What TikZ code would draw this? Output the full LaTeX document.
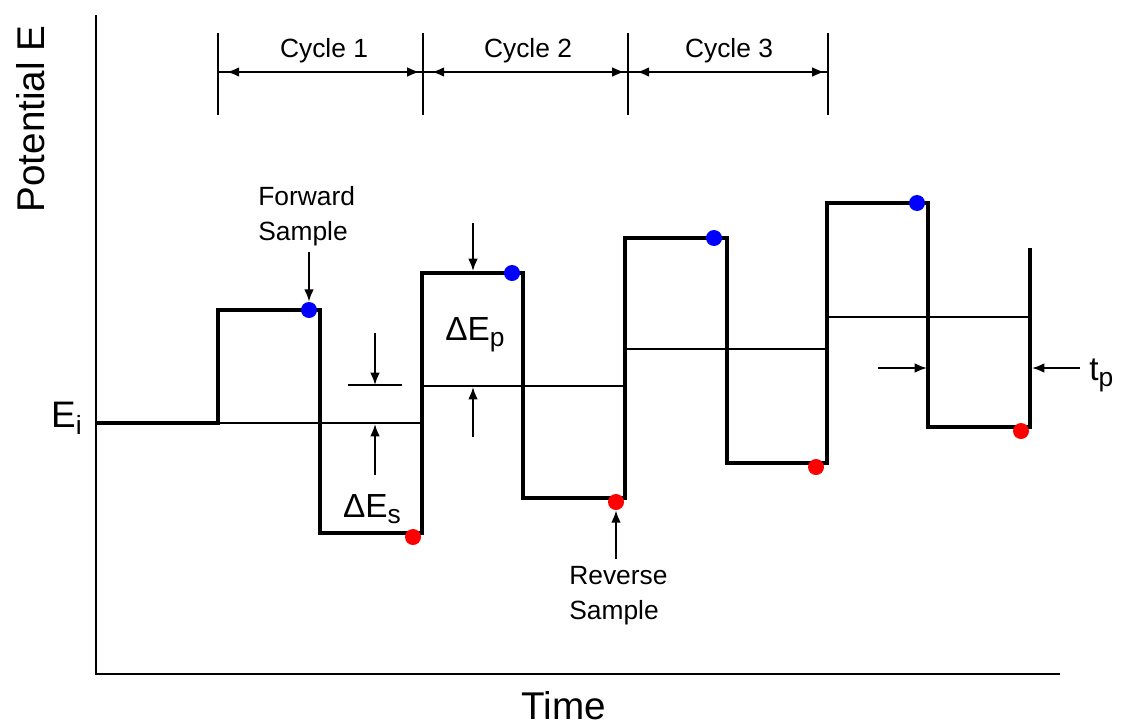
\documentclass[tikz,border=0pt]{standalone}
\usepackage{fontspec}
\setmainfont{Liberation Sans}
\usetikzlibrary{arrows.meta}

\newcommand{\lowidx}[1]{\raisebox{-0.2em}{\fontsize{15}{15}\selectfont #1}}

\begin{document}
\begin{tikzpicture}[
    x=0.02cm, y=-0.02cm, >={Latex[length=7pt,width=5.5pt]},
    axis/.style={line width=1.2pt},
    base/.style={line width=1.1pt},
    wave/.style={line width=2.8pt, line join=miter},
    marker/.style={->, line width=1.1pt},
    fwd/.style={circle, fill=blue, inner sep=0pt, minimum size=0.32cm},
    rev/.style={circle, fill=red, inner sep=0pt, minimum size=0.32cm},
    lbl/.style={font=\fontsize{15}{20}\selectfont, align=left, inner sep=0pt},
    big/.style={font=\fontsize{22}{24}\selectfont, inner sep=0pt},
    sym/.style={font=\fontsize{19}{21}\selectfont, inner sep=0pt}
]
    \useasboundingbox (0,0) rectangle (1125,727);

    % axes
    \draw[axis] (96,15) -- (96,674) -- (1060,674);
    \node[big, rotate=90] (ylab) at (31,119) {Potential E};
    \node[big, anchor=base] (xlab) at (564,719) {Time};
    \node[sym, font=\fontsize{21}{23}\selectfont, anchor=base east] (Ei) at (82,427) {E\lowidx{i}};

    % staircase
    \foreach \xa/\xb/\yb in {218/422/423, 422/625/386, 625/827/349, 827/1030/317}
        \draw[base] (\xa,\yb) -- (\xb,\yb);

    % square wave
    \draw[wave] (96,423) -| (218,310) -| (320,533) -| (422,273) -| (523,498)
        -| (625,238) -| (727,463) -| (827,203) -| (928,427) -| (1030,248);

    % sample points
    \foreach \x/\y [count=\i] in {309/310, 512/273, 714/238, 917/203}
        \node[fwd] (f\i) at (\x,\y) {};
    \foreach \x/\y [count=\i] in {413/537, 616/502, 816/467, 1021/431}
        \node[rev] (r\i) at (\x,\y) {};

    % cycles
    \foreach \x [count=\i] in {218,423,628,828} {
        \coordinate (t\i) at (\x,72);
        \draw[base] (\x,33) -- (\x,115);
    }
    \draw[base] (t1) -- (t4);
    \foreach \a/\b/\lx in {1/2/324, 2/3/528, 3/4/729} {
        \draw[base, <->, shorten <=5pt, shorten >=2pt] (t\a) -- (t\b);
        \node[lbl, anchor=base] (cyc\a) at (\lx,57) {Cycle \a};
    }

    % forward / reverse sample
    \node[lbl, anchor=north west] (fs) at (258,186) {Forward\\Sample};
    \draw[marker] ([yshift=-3pt]fs.south -| f1) -- (f1.north);
    \node[lbl, anchor=north west] (rs) at (569,566) {Reverse\\Sample};
    \draw[marker] ([yshift=4pt]rs.north -| r2) -- (r2.south);

    % pulse height
    \coordinate (pTop) at (473,223);
    \coordinate (pHi) at (473,271);
    \coordinate (pBot) at (473,437);
    \coordinate (pBase) at (473,387);
    \draw[marker] (pTop) -- (pHi);
    \draw[marker] (pBot) -- (pBase);
    \node[sym, anchor=base] (dEp) at (475,340) {ΔE\lowidx{p}};

    % step height
    \coordinate (sTop) at (375,333);
    \coordinate (sMark) at (375,385);
    \coordinate (sBot) at (375,475);
    \coordinate (sBase) at (375,424);
    \draw[base] (348,385) -- (402,385);
    \draw[marker] (sTop) -- (sMark);
    \draw[marker] (sBot) -- (sBase);
    \node[sym, anchor=base] (dEs) at (372,517) {ΔE\lowidx{s}};

    % pulse width
    \coordinate (tL) at (878,368);
    \coordinate (tLe) at (927,368);
    \coordinate (tR) at (1080,368);
    \coordinate (tRe) at (1032,368);
    \draw[marker] (tL) -- (tLe);
    \draw[marker] (tR) -- (tRe);
    \node[sym, anchor=base west] (tp) at (1089,380) {t\lowidx{p}};
\end{tikzpicture}
\end{document}
